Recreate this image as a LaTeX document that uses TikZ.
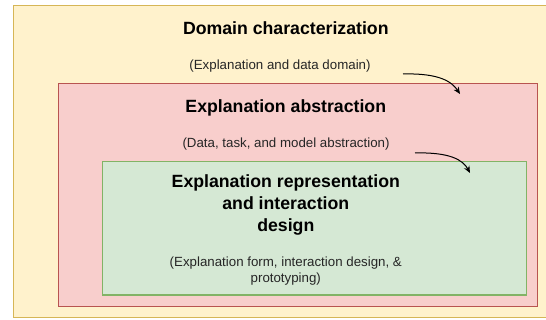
\documentclass[tikz,border=0pt]{standalone}
\usepackage{fontspec}
\setmainfont{Liberation Sans}
\usetikzlibrary{arrows.meta}
\definecolor{yfill}{HTML}{FFF2CC}
\definecolor{ydraw}{HTML}{D6B656}
\definecolor{rfill}{HTML}{F8CECC}
\definecolor{rdraw}{HTML}{B85450}
\definecolor{gfill}{HTML}{D5E8D4}
\definecolor{gdraw}{HTML}{82B366}
\tikzset{
  panel/.style={line width=1.3pt},
  titletext/.style={font=\fontsize{17.7}{22.2}\selectfont\bfseries, align=center, anchor=base, inner sep=0pt},
  subtext/.style={font=\fontsize{13.3}{16.7}\selectfont, align=center, anchor=base, inner sep=0pt, text=black!85},
  flow/.style={line width=1pt, -{Stealth[length=7pt,width=6pt]}}
}
\begin{document}
\begin{tikzpicture}[x=1pt,y=-1pt]
\useasboundingbox (0,0) rectangle (546,320);
\clip (0,0) rectangle (546,320);
\draw[panel, fill=yfill, draw=ydraw] (13.7,5.7) rectangle (560,317.3);
\draw[panel, fill=rfill, draw=rdraw] (58.3,83.7) rectangle (537.3,306.3);
\draw[panel, fill=gfill, draw=gdraw] (102.7,161.7) rectangle (526.3,295);
\node[titletext] (t1) at (285.8,34.3) {Domain characterization};
\node[subtext] (s1) at (280,69.3) {(Explanation and data domain)};
\node[titletext] (t2) at (285.8,112.3) {Explanation abstraction};
\node[subtext] (s2) at (286,148) {(Data, task, and model abstraction)};
\node[titletext] (t3) at (285.8,231.7) {Explanation representation\\and interaction\\design};
\node[subtext] (s3) at (285.8,283) {(Explanation form, interaction design, \&\\prototyping)};
\coordinate (a1s) at (403,74);
\coordinate (a1e) at (460,94);
\coordinate (a2s) at (415,153);
\coordinate (a2e) at (470,173);
\draw[flow] (a1s) .. controls (440,73) and (452,82) .. (a1e);
\draw[flow] (a2s) .. controls (450,152) and (463,160) .. (a2e);
\end{tikzpicture}
\end{document}
